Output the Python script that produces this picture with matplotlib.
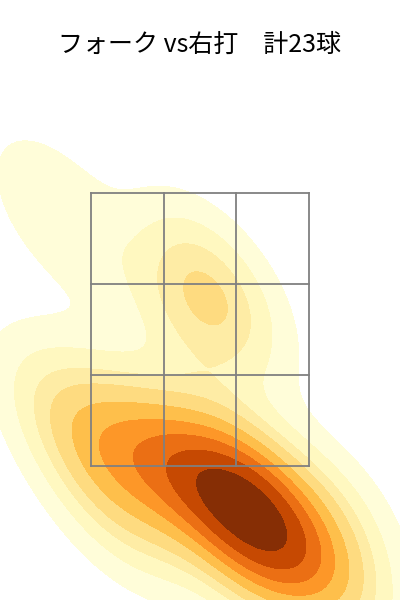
import numpy as np
import pandas as pd
import matplotlib
matplotlib.use("Agg")
import matplotlib.pyplot as plt
import seaborn as sns

plt.rcParams['font.family'] = ['Noto Sans CJK JP', 'DejaVu Sans']

# pitch locations (ft), 23 forks vs right-handed batters
plate_x = [0.25, 0.45, 0.55, 0.35, 0.65, 0.30, 0.70,
           -0.20, -0.50, -0.80, -0.30, -1.00, 0.00,
           1.00, 1.20, 0.50,
           -1.30,
           0.10, 0.15, -0.15,
           -1.30, -0.70, 1.25]
plate_z = [1.30, 1.20, 1.05, 1.45, 1.30, 1.05, 1.00,
           1.55, 1.65, 1.75, 1.30, 1.50, 1.40,
           0.85, 0.70, 0.75,
           1.90,
           2.85, 2.75, 2.55,
           3.35, 1.15, 1.15]

df = pd.DataFrame({"plate_x": plate_x, "plate_z": plate_z})

# strike zone
zone_left, zone_right = -1.0, 1.0
zone_bot, zone_top = 1.5, 3.5

fig = plt.figure(figsize=(4, 6), dpi=100)
ax = fig.add_axes([0, 0, 1, 0.85])

sns.kdeplot(data=df, x="plate_x", y="plate_z", fill=True, cmap="YlOrBr",
            levels=10, thresh=0.05, ax=ax)

xs = np.linspace(zone_left, zone_right, 4)
zs = np.linspace(zone_bot, zone_top, 4)
for x in xs:
    ax.plot([x, x], [zone_bot, zone_top], color="gray", lw=1.3)
for z in zs:
    ax.plot([zone_left, zone_right], [z, z], color="gray", lw=1.3)

ax.set_xlim(-1.835, 1.835)
ax.set_ylim(0.518, 4.255)
ax.axis("off")

fig.suptitle("フォーク vs右打　計23球", fontsize=18, y=0.947)

fig.savefig("out.png", dpi=100)
